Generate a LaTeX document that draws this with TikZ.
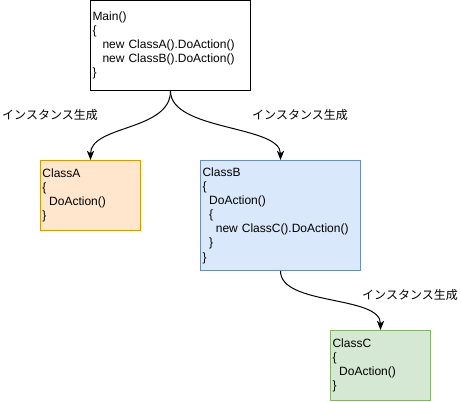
\documentclass[tikz,border=0pt]{standalone}
\usepackage{fontspec}
\setmainfont{Liberation Sans}
\newfontfamily\jpfont{Noto Sans CJK JP}
\usepackage{xcolor}
\usetikzlibrary{arrows.meta}
\definecolor{aFill}{HTML}{FFE6CC}
\definecolor{aLine}{HTML}{D79B00}
\definecolor{bFill}{HTML}{DAE8FC}
\definecolor{bLine}{HTML}{6C8EBF}
\definecolor{cFill}{HTML}{D5E8D4}
\definecolor{cLine}{HTML}{82B366}
\newcommand{\ind}[1]{\hspace*{#1}}

\begin{document}
\begin{tikzpicture}[
    x=0.75pt, y=-0.75pt,
    classbox/.style={rectangle, draw=black, line width=0.75pt, inner xsep=1.5pt, inner ysep=0pt, align=left, font=\fontsize{9}{10.6}\selectfont},
    arrow/.style={-{Stealth[length=7pt, width=5.5pt, inset=2pt]}, line width=0.75pt},
    label/.style={font=\jpfont\fontsize{9}{10.6}\selectfont, inner sep=0pt}
]
\useasboundingbox (0,0) rectangle (461,401);

% Classes
\node[classbox, minimum width=120pt, minimum height=67.5pt, text width=117pt] (main) at (170.5,45.5)
    {Main()\\\{\\\ind{7.5pt}new ClassA().DoAction()\\\ind{7.5pt}new ClassB().DoAction()\\\}};
\node[classbox, draw=aLine, fill=aFill, minimum width=75pt, minimum height=52.5pt, text width=72pt] (classA) at (90.5,195.5)
    {ClassA\\\{\\\ind{5pt}DoAction()\\\}};
\node[classbox, draw=bLine, fill=bFill, minimum width=120pt, minimum height=82.5pt, text width=117pt] (classB) at (280.5,215.5)
    {ClassB\\\{\\\ind{5pt}DoAction()\\\ind{5pt}\{\\\ind{10pt}new ClassC().DoAction()\\\ind{5pt}\}\\\}};
\node[classbox, draw=cLine, fill=cFill, minimum width=75pt, minimum height=52.5pt, text width=72pt] (classC) at (380.5,365.5)
    {ClassC\\\{\\\ind{5pt}DoAction()\\\}};

% Labels
\node[label] (newA) at (50,115) {インスタンス生成};
\node[label] (newB) at (300,115) {インスタンス生成};
\node[label] (newC) at (410,295) {インスタンス生成};

% Arrows
\draw[arrow] (main.south) .. controls +(0,40) and +(0,-35) .. (classA.north);
\draw[arrow] (main.south) .. controls +(0,40) and +(0,-35) .. (classB.north);
\draw[arrow] (classB.south) .. controls +(0,35) and +(0,-35) .. (classC.north);
\end{tikzpicture}
\end{document}
